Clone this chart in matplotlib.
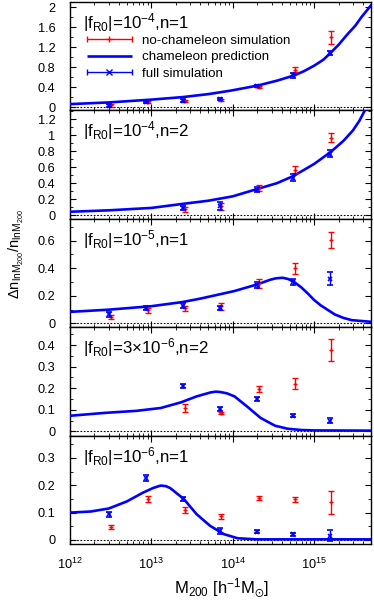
import numpy as np
import matplotlib
matplotlib.use("Agg")
import matplotlib.pyplot as plt
from matplotlib.lines import Line2D
from matplotlib.legend_handler import HandlerBase
from matplotlib.ticker import LogLocator, NullFormatter, MultipleLocator, FuncFormatter

plt.rcParams['font.family'] = ['Liberation Sans', 'DejaVu Sans']
plt.rcParams['mathtext.fontset'] = 'custom'
plt.rcParams['mathtext.rm'] = 'Liberation Sans'
plt.rcParams['mathtext.it'] = 'Liberation Sans'
plt.rcParams['mathtext.bf'] = 'Liberation Sans'
plt.rcParams['mathtext.default'] = 'regular'

# ---------------- data ----------------
mass_full = [3.0e12, 8.7e12, 2.45e13, 6.9e13, 1.98e14, 5.5e14, 1.55e15]
mass_nocham = [3.15e12, 9.1e12, 2.57e13, 7.25e13, 2.08e14, 5.78e14, 1.63e15]

panel_labels = [r'$|f_{R0}|$=10$^{-4}$,n=1',
                r'$|f_{R0}|$=10$^{-4}$,n=2',
                r'$|f_{R0}|$=10$^{-5}$,n=1',
                r'$|f_{R0}|$=3$\times$10$^{-6}$,n=2',
                r'$|f_{R0}|$=10$^{-6}$,n=1']

# panel 1: |fR0|=1e-4, n=1
full1 = [0.03, 0.10, 0.13, 0.16, 0.42, 0.64, 1.09]
full1_err = [0.03, 0.02, 0.025, 0.02, 0.025, 0.05, 0.04]
noch1 = [0.04, 0.10, 0.12, 0.15, 0.40, 0.75, 1.40]
noch1_err = [0.03, 0.02, 0.02, 0.02, 0.02, 0.05, 0.13]
curve1_m = [1e12, 3e12, 1e13, 2.4e13, 5e13, 9.4e13, 2.0e14, 3.5e14, 5.8e14, 7.5e14, 1e15,
            1.3e15, 1.6e15, 2e15, 2.6e15, 3.2e15, 3.8e15, 5e15]
curve1_v = [0.06, 0.094, 0.15, 0.20, 0.26, 0.33, 0.43, 0.53, 0.64, 0.72, 0.83,
            0.95, 1.09, 1.25, 1.47, 1.63, 1.80, 2.04]

# panel 2: |fR0|=1e-4, n=2
full2 = [0.088, 0.11, 0.32, 0.47, 0.77]
full2_err = [0.03, 0.05, 0.03, 0.04, 0.04]
noch2 = [0.075, 0.11, 0.34, 0.57, 0.97]
noch2_err = [0.03, 0.04, 0.04, 0.04, 0.06]
curve2_m = [1e12, 3e12, 1e13, 2.4e13, 5e13, 1e14, 1.9e14, 3.5e14, 5.6e14, 1e15,
            1.6e15, 2.3e15, 3e15, 3.6e15, 4.2e15]
curve2_v = [0.042, 0.06, 0.09, 0.14, 0.18, 0.235, 0.32, 0.40, 0.49, 0.64,
            0.79, 0.93, 1.06, 1.18, 1.31]

# panel 3: |fR0|=1e-5, n=1
full3 = [0.065, 0.11, 0.13, 0.115, 0.28, 0.30, 0.325]
full3_err = [0.015, 0.015, 0.015, 0.015, 0.02, 0.02, 0.05]
noch3 = [0.045, 0.095, 0.11, 0.125, 0.29, 0.40, 0.605]
noch3_err = [0.015, 0.02, 0.02, 0.025, 0.03, 0.04, 0.06]
curve3_m = [1e12, 3e12, 1e13, 2.4e13, 4e13, 1.05e14, 2e14, 2.9e14, 3.4e14, 4.1e14,
            4.8e14, 5.7e14, 7e14, 8.4e14, 1e15, 1.2e15, 1.5e15, 1.8e15, 2.3e15, 2.9e15, 5e15]
curve3_v = [0.084, 0.10, 0.125, 0.155, 0.18, 0.235, 0.283, 0.317, 0.327, 0.331,
            0.322, 0.30, 0.26, 0.216, 0.17, 0.132, 0.095, 0.065, 0.04, 0.024, 0.012]

# panel 4: |fR0|=3e-6, n=2
full4 = [0.211, 0.103, 0.15, 0.072, 0.05]
full4_err = [0.008, 0.01, 0.01, 0.006, 0.01]
noch4 = [0.108, 0.085, 0.196, 0.22, 0.377]
noch4_err = [0.02, 0.006, 0.015, 0.025, 0.05]
curve4_m = [1e12, 2.6e12, 6.6e12, 1.3e13, 2.3e13, 3.6e13, 5.3e13, 6.2e13, 7.1e13, 8.5e13,
            1.05e14, 1.5e14, 2.2e14, 3.3e14, 4.7e14, 6.9e14, 1e15, 5e15]
curve4_v = [0.072, 0.085, 0.095, 0.108, 0.134, 0.162, 0.18, 0.184, 0.182, 0.176,
            0.162, 0.115, 0.062, 0.026, 0.012, 0.006, 0.004, 0.003]

# panel 5: |fR0|=1e-6, n=1
full5 = [0.094, 0.227, 0.15, 0.033, 0.03, 0.021, 0.015]
full5_err = [0.01, 0.012, 0.008, 0.01, 0.005, 0.006, 0.02]
noch5 = [0.048, 0.15, 0.109, 0.086, 0.153, 0.148, 0.137]
noch5_err = [0.008, 0.012, 0.01, 0.008, 0.006, 0.01, 0.043]
curve5_m = [1e12, 1.8e12, 3e12, 5e12, 8e12, 1.05e13, 1.3e13, 1.5e13, 1.7e13, 2.5e13,
            3.6e13, 5.3e13, 7.8e13, 1.15e14, 2e14, 5e15]
curve5_v = [0.10, 0.104, 0.115, 0.141, 0.174, 0.19, 0.199, 0.197, 0.19, 0.15,
            0.094, 0.051, 0.021, 0.006, 0.002, 0.002]

panels = [
    (full1, full1_err, noch1, noch1_err, curve1_m, curve1_v, (-0.066, 2.107), 0.4, 0.2),
    (full2, full2_err, noch2, noch2_err, curve2_m, curve2_v, (-0.046, 1.31), 0.2, 0.1),
    (full3, full3_err, noch3, noch3_err, curve3_m, curve3_v, (-0.027, 0.758), 0.2, 0.1),
    (full4, full4_err, noch4, noch4_err, curve4_m, curve4_v, (-0.02, 0.483), 0.1, 0.05),
    (full5, full5_err, noch5, noch5_err, curve5_m, curve5_v, (-0.015, 0.382), 0.1, 0.05),
]

RED = '#ff0000'
BLUE = '#0000ff'

fig = plt.figure(figsize=(3.74, 6.0), dpi=100)
gs = fig.add_gridspec(5, 1, left=70/374, right=371/374, top=1-2/600, bottom=1-544/600, hspace=0)


class GnuHandler(HandlerBase):
    def __init__(self, color, marker=None, caps=True, lw=1.0, ms=4):
        super().__init__()
        self.color = color
        self.marker = marker
        self.caps = caps
        self.lw = lw
        self.ms = ms

    def create_artists(self, legend, orig_handle, xdescent, ydescent, width, height, fontsize, trans):
        y = height / 2 - ydescent
        x0, x1 = -xdescent, width - xdescent
        arts = [Line2D([x0, x1], [y, y], color=self.color, lw=self.lw, solid_capstyle='butt')]
        if self.caps:
            arts.append(Line2D([x0, x1], [y, y], ls='none', marker='|', ms=5, mew=1.0, color=self.color))
        if self.marker:
            arts.append(Line2D([(x0 + x1) / 2], [y], ls='none', marker=self.marker, ms=self.ms, mew=1.0, color=self.color))
        for a in arts:
            a.set_transform(trans)
        return arts


for i, (fv, fe, nv, ne, cm, cv, ylim, major, minor) in enumerate(panels):
    ax = fig.add_subplot(gs[i, 0])
    n = len(fv)
    mf = mass_full[-n:]
    mn = mass_nocham[-n:]
    ax.axhline(0, color='black', lw=0.8, ls=(0, (1.5, 1.5)), zorder=1)
    ax.plot(cm, cv, color=BLUE, lw=1.9, zorder=3, solid_joinstyle='round')
    ax.errorbar(mn, nv, yerr=ne, fmt='+', color=RED, ms=3.5, mew=1.0, elinewidth=1.0,
                capsize=2.5, capthick=1.0, zorder=4)
    ax.errorbar(mf, fv, yerr=fe, fmt='x', color=BLUE, ms=3.5, mew=1.2, elinewidth=1.0,
                capsize=2.5, capthick=1.0, zorder=5)
    ax.set_xscale('log')
    ax.set_xlim(1e12, 5e15)
    ax.set_ylim(*ylim)
    ax.yaxis.set_major_locator(MultipleLocator(major))
    ax.yaxis.set_minor_locator(MultipleLocator(minor))
    ax.xaxis.set_major_locator(LogLocator(base=10, numticks=10))
    ax.xaxis.set_minor_locator(LogLocator(base=10, subs=np.arange(2, 10), numticks=20))
    ax.xaxis.set_minor_formatter(NullFormatter())
    ax.tick_params(which='both', direction='in', top=True, right=True, labelsize=9.2)
    ax.tick_params(which='major', length=4.5, width=0.8)
    ax.tick_params(which='minor', length=2.5, width=0.6)
    ax.tick_params(axis='y', pad=10.5)
    ax.yaxis.set_major_formatter(FuncFormatter(lambda v, p: ('%g' % round(v, 3))))
    for s in ax.spines.values():
        s.set_linewidth(1.0)
    if i < 4:
        ax.tick_params(labelbottom=False)
    else:
        ax.tick_params(axis='x', pad=9)
    ax.text(0.043, 0.81, panel_labels[i], transform=ax.transAxes, fontsize=12.2, va='center', ha='left')
    if i == 0:
        h1 = Line2D([], [], color=RED)
        h2 = Line2D([], [], color=BLUE)
        h3 = Line2D([], [], color=BLUE)
        ax.legend([h1, h2, h3], ['no-chameleon simulation', 'chameleon prediction', 'full simulation'],
                  handler_map={h1: GnuHandler(RED, '+'), h2: GnuHandler(BLUE, None, caps=False, lw=1.9),
                               h3: GnuHandler(BLUE, 'x')},
                  loc='center left', bbox_to_anchor=(0.055, 0.49), frameon=False, fontsize=9.6,
                  handlelength=3.4, handletextpad=0.75, labelspacing=0.3, borderpad=0, borderaxespad=0)

fig.text(16/374, 1-254/600, r'$\Delta n_{lnM_{200}}/n_{lnM_{200}}$', rotation=90,
         ha='center', va='center', fontsize=10.5)
fig.text(221/374, 1-588/600, r'M$_{200}$ [h$^{-1}$M$_{\odot}$]', ha='center', va='center', fontsize=12)

fig.savefig('out.png', dpi=100)
